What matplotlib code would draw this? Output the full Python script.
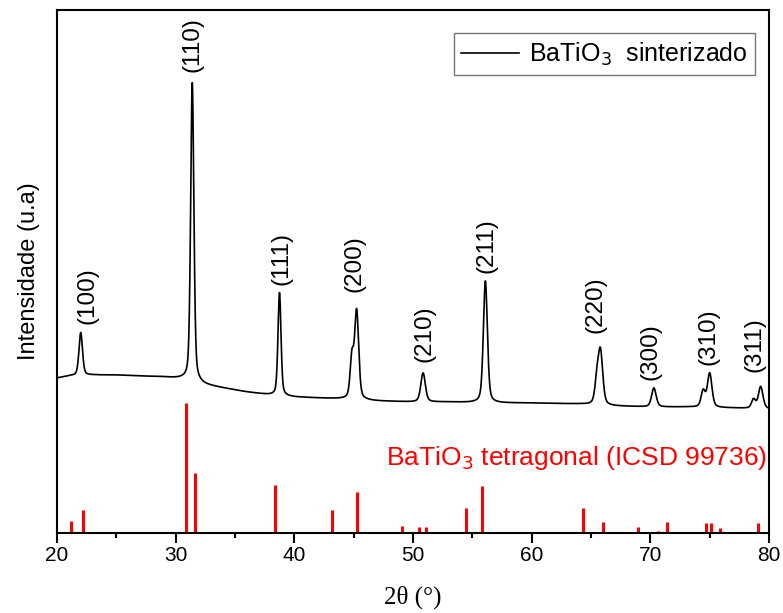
import numpy as np
import matplotlib
matplotlib.use("Agg")
import matplotlib.pyplot as plt
from matplotlib.ticker import MultipleLocator

plt.rcParams['font.family'] = ['Liberation Sans', 'DejaVu Sans']

# Measured pattern: smooth background knots (2theta, intensity)
bg_theta = [20, 21, 23, 25, 27, 29, 30.5, 32.5, 34, 36, 38, 40, 42, 44, 47, 50, 53, 56, 60, 64, 67, 70, 73, 77, 80]
bg_level = [155, 157, 158, 158, 157, 156, 154, 148, 145, 141, 138, 136, 135, 134, 132, 131, 131, 130, 130, 129, 127, 126, 126, 125, 124]

# Reflections of the sintered sample: centre, height above background, FWHM
peak_pos = [22.0, 31.4, 38.75, 44.85, 45.25, 50.85, 56.1, 65.5, 65.8, 70.3, 74.45, 75.0, 78.7, 79.3]
peak_height = [43, 299, 103, 40, 88, 29, 122, 22, 52, 19, 16, 34, 9, 22]
peak_fwhm = [0.35, 0.32, 0.30, 0.35, 0.40, 0.45, 0.40, 0.40, 0.45, 0.45, 0.40, 0.45, 0.40, 0.45]

# (hkl) labels and where their bottoms sit
hkl_text = ['(100)', '(110)', '(111)', '(200)', '(210)', '(211)', '(220)', '(300)', '(310)', '(311)']
hkl_x = [22.6, 31.4, 38.9, 45.1, 51.0, 56.2, 65.4, 70.0, 74.9, 78.8]
hkl_y = [209, 461, 248, 241, 171, 260, 200, 153, 168, 161]

# ICSD 99736 tetragonal BaTiO3 reference lines
ref_pos = [21.15, 22.2, 30.84, 31.63, 38.4, 43.14, 45.3, 49.04, 50.5, 51.06, 54.46, 55.83,
           64.34, 66.02, 66.9, 68.97, 70.18, 70.63, 71.42, 74.67, 75.1, 75.9, 79.1]
ref_int = [12, 23, 130, 60, 48, 23, 41, 7, 6, 6, 25, 47,
           25, 11, 1, 6, 1.5, 2, 11, 10, 10, 5, 10]

two_theta = np.linspace(20, 80, 6001)
intensity = np.interp(two_theta, bg_theta, bg_level)
for c, h, w in zip(peak_pos, peak_height, peak_fwhm):
    g = np.exp(-4 * np.log(2) * ((two_theta - c) / w) ** 2)
    l = 1.0 / (1.0 + 4 * ((two_theta - c) / w) ** 2)
    intensity += h * (0.6 * g + 0.4 * l)

fig = plt.figure(figsize=(7.83, 6.13), dpi=100)
ax = fig.add_axes([57 / 783, 80 / 613, 712 / 783, 523 / 613])

ax.plot(two_theta, intensity, color='black', lw=1.2, label=r'BaTiO$_3$  sinterizado')
ax.vlines(ref_pos, 0, ref_int, colors='red', lw=2.2)

for t, x, y in zip(hkl_text, hkl_x, hkl_y):
    ax.text(x, y, t, rotation=90, ha='center', va='bottom', fontsize=17.5)

ax.text(47.7, 68, r'BaTiO$_3$ tetragonal (ICSD 99736)', color='red', fontsize=19,
        ha='left', va='baseline')

ax.set_xlim(20, 80)
ax.set_ylim(0, 523)
ax.xaxis.set_major_locator(MultipleLocator(10))
ax.xaxis.set_minor_locator(MultipleLocator(5))
ax.tick_params(axis='x', which='major', direction='out', length=7.2, width=1.5, labelsize=15, pad=2)
ax.tick_params(axis='x', which='minor', direction='out', length=3.6, width=1.5)
ax.set_yticks([])
for s in ax.spines.values():
    s.set_linewidth(1.5)

ax.set_xlabel('2θ (°)', fontsize=18, family='Liberation Serif', labelpad=15)
ax.set_ylabel('Intensidade (u.a)', fontsize=17, labelpad=12)

leg = ax.legend(loc='upper right', bbox_to_anchor=(0.98, 0.956), borderaxespad=0,
                fontsize=18, handlelength=2.3, handletextpad=0.4, borderpad=0.3,
                fancybox=False, frameon=True)
leg.get_frame().set_edgecolor('#555555')
leg.get_frame().set_linewidth(1.0)

fig.savefig('out.png', dpi=100)
